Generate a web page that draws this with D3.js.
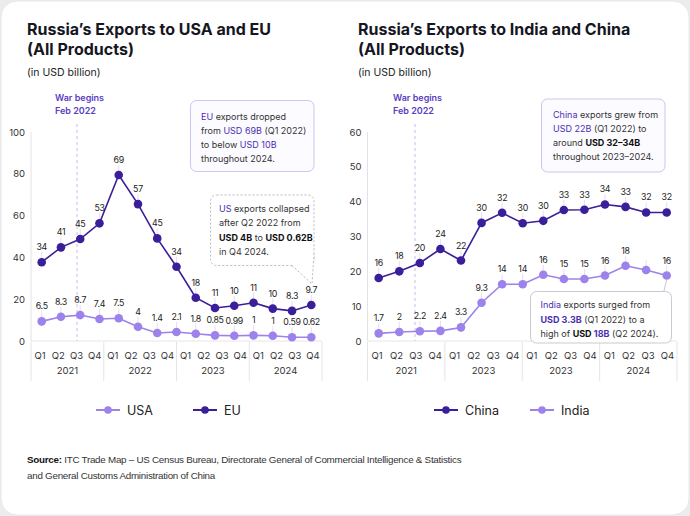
<!DOCTYPE html>
<html lang="en">
<head>
<meta charset="UTF-8">
<title>Russia's Exports</title>
<script src="https://cdn.jsdelivr.net/npm/d3@7"></script>
<style>
body { margin: 0; background: #ececef; }
svg { display: block; font-family: Inter, "Noto Sans", sans-serif; }
.tick-label { font-size: 9.5px; fill: #333; }
.val { font-size: 8.8px; fill: #222; text-anchor: middle; letter-spacing: -0.3px; }
.note { font-size: 9px; fill: #333; }
.src { font-family: "Liberation Sans", Arial, sans-serif; font-size: 9.8px; fill: #333; letter-spacing: -0.25px; }
</style>
</head>
<body>
<div id="chart"></div>
<script>
// ---- data ----
const quarters = ["Q1", "Q2", "Q3", "Q4"]
const yearsLeft = ["2021", "2022", "2023", "2024"]
const yearsRight = ["2021", "2023", "2023", "2024"]
const leftTicks = [0, 20, 40, 60, 80, 100]
const rightTicks = [0, 10, 20, 30, 40, 50, 60]

// plotted heights as drawn in the original, with the printed labels beside them
const euValues = [37.7, 44.8, 48.8, 56.3, 79.4, 65.5, 49.1, 35.5, 20.7, 15.8, 16.9, 18.3, 15.5, 14.4, 17.2]
const euLabels = ["34", "41", "45", "53", "69", "57", "45", "34", "18", "11", "10", "11", "10", "8.3", "9.7"]
const usaValues = [9.4, 11.6, 12.4, 10.5, 10.9, 6.8, 3.8, 4.3, 3.5, 2.7, 2.5, 2.7, 2.5, 1.8, 1.8]
const usaLabels = ["6.5", "8.3", "8.7", "7.4", "7.5", "4", "1.4", "2.1", "1.8", "0.85", "0.99", "1", "1", "0.59", "0.62"]

const chinaValues = [18.1, 20.0, 22.4, 26.4, 23.1, 33.9, 36.8, 33.8, 34.5, 37.6, 37.7, 39.2, 38.5, 36.9, 36.9]
const chinaLabels = ["16", "18", "20", "24", "22", "30", "32", "30", "30", "33", "33", "34", "33", "32", "32"]
const indiaValues = [2.2, 2.6, 2.8, 2.9, 3.9, 11.0, 16.3, 16.3, 19.0, 17.8, 17.8, 18.8, 21.6, 20.4, 18.8]
const indiaLabels = ["1.7", "2", "2.2", "2.4", "3.3", "9.3", "14", "14", "16", "15", "15", "16", "18", "", "16"]

const dark = "#3a1e9a"
const light = "#9c82ea"
const accent = "#4b2fb3"

const W = 690, H = 516

let svg = d3.select("#chart").append("svg").attr("width", W).attr("height", H)

svg.append("rect")
  .attr("x", 1).attr("y", 1).attr("width", W - 2).attr("height", H - 2)
  .attr("rx", 16).attr("fill", "#fff").attr("stroke", "#e8e8ec")

/********************
* panel drawing
*********************/
function drawPanel(p) {
  let g = svg.append("g")

  // titles
  g.append("text").attr("x", p.left).attr("y", 35)
    .style("font-size", "16px").style("font-weight", 700).attr("fill", "#16161f")
    .text(p.title)
  g.append("text").attr("x", p.left).attr("y", 55)
    .style("font-size", "16px").style("font-weight", 700).attr("fill", "#16161f")
    .text("(All Products)")
  g.append("text").attr("x", p.left).attr("y", 76)
    .style("font-size", "10.5px").attr("fill", "#222")
    .text("(in USD billion)")

  let y = d3.scaleLinear().domain(p.domain).range([341, 132])
  let x = d3.scalePoint().domain(d3.range(p.series[0].values.length)).range(p.pointRange)

  // y axis
  g.append("line").attr("x1", p.axisX).attr("x2", p.axisX).attr("y1", 132).attr("y2", 341)
    .attr("stroke", "#e2e2e8")
  g.append("line").attr("x1", p.axisX).attr("x2", p.axisEnd).attr("y1", 341).attr("y2", 341)
    .attr("stroke", "#e6e6ec")
  g.selectAll(".yt").data(p.ticks).enter().append("text")
    .attr("class", "tick-label").attr("text-anchor", "end")
    .attr("x", p.axisX - 6).attr("y", d => y(d) + 3.5)
    .text(d => d)

  // x axis: quarters grouped by year
  let keys = []
  p.years.forEach((yr, i) => quarters.forEach(q => keys.push(i + "-" + q)))
  let xb = d3.scaleBand().domain(keys).range([p.axisX, p.axisEnd])
  g.selectAll(".qt").data(keys).enter().append("text")
    .attr("class", "tick-label").attr("text-anchor", "middle")
    .attr("x", d => xb(d) + xb.bandwidth() / 2).attr("y", 358.5)
    .text(d => d.split("-")[1])
  let gw = xb.bandwidth() * 4
  g.selectAll(".yr").data(p.years).enter().append("text")
    .attr("class", "tick-label").attr("text-anchor", "middle")
    .attr("x", (d, i) => p.axisX + gw * i + gw / 2).attr("y", 374)
    .text(d => d)
  g.selectAll(".sep").data(d3.range(p.years.length + 1)).enter().append("line")
    .attr("x1", i => p.axisX + gw * i).attr("x2", i => p.axisX + gw * i)
    .attr("y1", 342).attr("y2", 381)
    .attr("stroke", "#e4e4ea")

  // war line
  g.append("line").attr("x1", p.warX).attr("x2", p.warX).attr("y1", 124).attr("y2", 341)
    .attr("stroke", "#c6baf0").attr("stroke-dasharray", "3,3")
  g.append("text").attr("x", p.warX - 22).attr("y", 101)
    .style("font-size", "9px").style("font-weight", 600).attr("fill", "#5a3dc2").text("War begins")
  g.append("text").attr("x", p.warX - 22).attr("y", 114)
    .style("font-size", "9px").style("font-weight", 600).attr("fill", "#5a3dc2").text("Feb 2022")

  // series
  p.series.forEach(s => {
    g.append("path").datum(s.values)
      .attr("fill", "none").attr("stroke", s.color).attr("stroke-width", 1.6)
      .attr("d", d3.line().x((d, i) => x(i)).y(d => y(d)))
    g.selectAll(null).data(s.values).enter().append("line")
      .attr("x1", (d, i) => x(i)).attr("x2", (d, i) => x(i))
      .attr("y1", d => y(d) - 4).attr("y2", d => y(d) - 10)
      .attr("stroke", "#dcd5f3").attr("stroke-width", 0.8)
    g.selectAll(null).data(s.values).enter().append("circle")
      .attr("cx", (d, i) => x(i)).attr("cy", d => y(d)).attr("r", 4.3)
      .attr("fill", s.color)
    g.selectAll(null).data(s.values).enter().append("text")
      .attr("class", "val")
      .attr("x", (d, i) => x(i)).attr("y", d => y(d) - 12)
      .text((d, i) => s.labels[i])
  })

  // legend
  p.legend.forEach(l => {
    g.append("line").attr("x1", l.x).attr("x2", l.x + 24).attr("y1", 410).attr("y2", 410)
      .attr("stroke", l.color).attr("stroke-width", 2)
    g.append("circle").attr("cx", l.x + 12).attr("cy", 410).attr("r", 3.8).attr("fill", l.color)
    g.append("text").attr("x", l.x + 31).attr("y", 414.5)
      .style("font-size", "12.5px").attr("fill", "#222").text(l.name)
  })
  return {x, y}
}

// rich text note: each line is a list of [text, style]
function note(lines, x, y0, lh) {
  let t = svg.append("text").attr("class", "note")
  lines.forEach((line, i) => {
    line.forEach((seg, j) => {
      let ts = t.append("tspan").text(seg[0])
      if (j == 0) ts.attr("x", x).attr("y", y0 + i * lh)
      if (seg[1] == "c") ts.attr("fill", accent)
      if (seg[1] == "b") ts.attr("fill", "#111").style("font-weight", 700)
      if (seg[1] == "cb") ts.attr("fill", accent).style("font-weight", 700)
    })
  })
}

function box(x, y, w, h, stroke, fill, dash) {
  let r = svg.append("rect").attr("x", x).attr("y", y).attr("width", w).attr("height", h)
    .attr("rx", 6).attr("fill", fill).attr("stroke", stroke)
  if (dash) r.attr("stroke-dasharray", dash)
  return r
}

let L = drawPanel({
  title: "Russia\u2019s Exports to USA and EU",
  left: 27, axisX: 31, axisEnd: 322, pointRange: [41.7, 311.3], warX: 77,
  domain: [0, 100], ticks: leftTicks, years: yearsLeft,
  series: [
    {values: euValues, labels: euLabels, color: dark},
    {values: usaValues, labels: usaLabels, color: light}
  ],
  legend: [{x: 96, name: "USA", color: light}, {x: 193, name: "EU", color: dark}]
})

let R = drawPanel({
  title: "Russia\u2019s Exports to India and China",
  left: 358, axisX: 367.5, axisEnd: 677, pointRange: [378.7, 666.7], warX: 415,
  domain: [0, 60], ticks: rightTicks, years: yearsRight,
  series: [
    {values: chinaValues, labels: chinaLabels, color: dark},
    {values: indiaValues, labels: indiaLabels, color: light}
  ],
  legend: [{x: 434, name: "China", color: dark}, {x: 530, name: "India", color: light}]
})

// annotations
box(190.5, 100.5, 123.5, 71, "#cdc4ef", "#fcfbff")
note([
  [["EU", "c"], [" exports dropped"]],
  [["from "], ["USD 69B", "c"], [" (Q1 2022)"]],
  [["to below "], ["USD 10B", "c"]],
  [["throughout 2024."]]
], 201, 119.5, 14.2)

box(210.5, 195, 103.5, 70.5, "#b8b8c6", "#fff", "2,2")
// bubble tail toward the last EU label
svg.append("path")
  .attr("d", "M292,265.5 L312,284 L314,254")
  .attr("fill", "#fff").attr("stroke", "#b8b8c6").attr("stroke-dasharray", "2,2")
note([
  [["US", "c"], [" exports collapsed"]],
  [["after Q2 2022 from"]],
  [["USD 4B", "b"], [" to "], ["USD 0.62B", "b"]],
  [["in Q4 2024."]]
], 219, 212, 14.4)

box(541.5, 99, 123.5, 73, "#cdc4ef", "#fcfbff")
note([
  [["China", "c"], [" exports grew from"]],
  [["USD 22B", "c"], [" (Q1 2022) to"]],
  [["around "], ["USD 32\u201334B", "b"]],
  [["throughout 2023\u20132024."]]
], 553, 117.5, 14.2)

svg.append("line")
  .attr("x1", R.x(indiaValues.length - 1)).attr("x2", R.x(indiaValues.length - 1) - 3)
  .attr("y1", R.y(indiaValues[indiaValues.length - 1]) + 4).attr("y2", 292)
  .attr("stroke", "#c9c9d3")
box(530.5, 291.5, 141, 51.5, "#c9c9d3", "#fff")
note([
  [["India", "c"], [" exports surged from"]],
  [["USD 3.3B", "cb"], [" (Q1 2022) to a"]],
  [["high of "], ["USD", "b"], [" 18B", "cb"], [" (Q2 2024)."]]
], 540.5, 308, 14.5)

// source
let src = svg.append("text").attr("class", "src").attr("x", 27).attr("y", 462.5)
src.append("tspan").style("font-weight", 700).attr("fill", "#111").text("Source:")
src.append("tspan").text(" ITC Trade Map \u2013 US Census Bureau, Directorate General of Commercial Intelligence & Statistics")
svg.append("text").attr("class", "src").attr("x", 27).attr("y", 478.5)
  .text("and General Customs Administration  of China")
</script>
</body>
</html>
